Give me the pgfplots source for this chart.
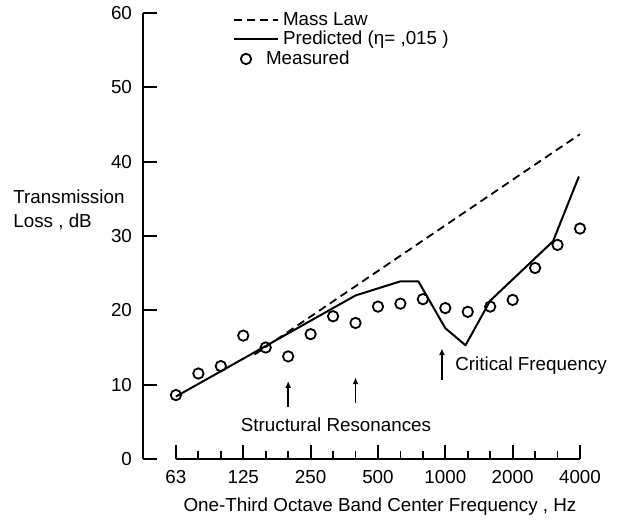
\documentclass[border=0pt]{standalone}
\usepackage{fontspec}
\setmainfont{Liberation Sans}
\usepackage{pgfplots}
\pgfplotsset{compat=1.18}
\usetikzlibrary{arrows.meta}
\pgfplotsset{
  linelegend/.style={legend image code/.code={\draw[##1] (0pt,0pt) -- (22pt,0pt);}},
  marklegend/.style={legend image code/.code={\draw[##1] plot coordinates {(6pt,0pt)};}},
}

\begin{document}
\begin{tikzpicture}[font=\fontsize{9.4}{11}\selectfont]
\useasboundingbox (-71.5pt,-30.5pt) rectangle (240pt,229.5pt);
\begin{axis}[
  scale only axis, width=218.5pt, height=223pt,
  xmin=-1.467, xmax=18, ymin=0, ymax=60,
  clip=false,
  axis y line*=left, axis x line*=bottom,
  x axis line style={draw=none},
  y axis line style={-, line width=1.2pt},
  tick align=inside,
  major tick length=7pt, minor tick length=4pt,
  every tick/.style={black, line width=0.9pt},
  xtick={0,3,...,18},
  xticklabels={63,125,250,500,1000,2000,4000},
  minor xtick={1,2,4,5,7,8,10,11,13,14,16,17},
  ytick={0,10,...,60},
  /pgf/number format/assume math mode=true,
  tick label style={font=\fontsize{9.4}{11}\selectfont},
  xticklabel style={yshift=-2pt},
  yticklabel style={xshift=-2pt},
  legend cell align=left,
  legend style={draw=none, fill=none, at={(axis description cs:0.206,1.011)},
    anchor=north west, inner sep=0pt, outer sep=0pt, row sep=-2.5pt,
    font=\fontsize{9.4}{11}\selectfont},
]
% Mass law
\addplot[black, line width=0.9pt, dash pattern=on 4pt off 2.5pt, linelegend]
  coordinates {(3.5,14.05) (18,43.7)};
\addlegendentry{Mass Law}
% Predicted
\addplot[black, line width=1pt, line join=round, linelegend]
  coordinates {(0,8.4) (8,22.0) (10,23.9) (10.8,23.9) (12,17.6) (12.9,15.3)
    (14,21.3) (16.8,29.3) (17.95,38.0)};
\addlegendentry{Predicted (η= ,015 )}
% Measured
\addplot[black, only marks, mark=o, mark size=2.6pt, line width=0.9pt, marklegend]
  coordinates {(0,8.6) (1,11.5) (2,12.5) (3,16.6) (4,15.0) (5,13.8) (6,16.8)
    (7,19.2) (8,18.3) (9,20.5) (10,20.9) (11,21.5) (12,20.3) (13,19.8)
    (14,20.5) (15,21.4) (16,25.7) (17,28.8) (18,31.0)};
\addlegendentry{\hspace*{-8.5pt}Measured}
% x axis line
\draw[line width=1.2pt] (axis cs:0,0) -- (axis cs:18,0);
% annotations
\draw[line width=0.8pt, -{Latex[length=3.5pt,width=3pt]}] (axis cs:5,7.0) -- (axis cs:5,10.5);
\draw[line width=0.8pt, -{Latex[length=3.5pt,width=3pt]}] (axis cs:8,7.5) -- (axis cs:8,11.0);
\draw[line width=0.8pt, -{Latex[length=3.5pt,width=3pt]}] (axis cs:11.85,10.6) -- (axis cs:11.85,14.9);
\node at (axis cs:7.13,4.6) {Structural Resonances};
\node[anchor=west, inner sep=0pt] at (axis cs:12.43,12.6) {Critical Frequency};
\end{axis}
\node[anchor=west, align=left, inner sep=0pt] at (-65pt,124.5pt) {Transmission\\[1pt]Loss , dB};
\node at (118.5pt,-24pt) {One-Third Octave Band Center Frequency , Hz};
\end{tikzpicture}
\end{document}
